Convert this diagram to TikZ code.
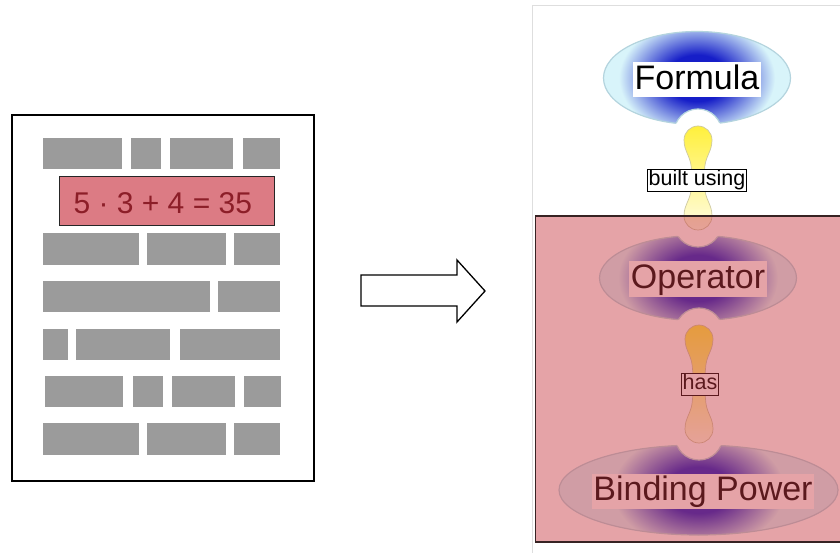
\documentclass[tikz,border=0pt]{standalone}
\usepackage{fontspec}
\setmainfont{Liberation Sans}
\usetikzlibrary{calc,shapes.geometric}
\definecolor{gblue}{RGB}{22,30,200}
\definecolor{gcyan}{RGB}{216,244,250}
\definecolor{rimc}{RGB}{180,212,222}
\definecolor{barg}{RGB}{155,155,155}
\definecolor{eqfill}{RGB}{220,123,132}
\definecolor{eqtext}{RGB}{140,30,40}
\definecolor{overlayc}{RGB}{200,56,65}
\definecolor{boneA}{RGB}{255,240,60}
\definecolor{boneB}{RGB}{255,252,228}
\definecolor{bonerim}{RGB}{205,200,160}
\definecolor{frameg}{RGB}{222,222,222}
\definecolor{ovborder}{RGB}{55,35,35}
\pgfdeclareradialshading{glow}{\pgfpoint{0bp}{0bp}}{color(0bp)=(gblue); color(10bp)=(gblue); color(25bp)=(gcyan); color(50bp)=(gcyan)}
\newcommand\bonepath[2]{%
 ($(#1)+(-14,0)$) .. controls ($(#1)+(-14,12)$) and ($(#1)+(-7,16)$) .. ($(#1)+(-6.5,30)$)
 .. controls ($(#1)!.5!(#2)+(-5.5,-8)$) and ($(#1)!.5!(#2)+(-5.5,8)$) .. ($(#2)+(-6.5,-30)$)
 .. controls ($(#2)+(-7,-16)$) and ($(#2)+(-14,-12)$) .. ($(#2)+(-14,0)$)
 arc[start angle=180, end angle=0, radius=14]
 .. controls ($(#2)+(14,-12)$) and ($(#2)+(7,-16)$) .. ($(#2)+(6.5,-30)$)
 .. controls ($(#1)!.5!(#2)+(5.5,8)$) and ($(#1)!.5!(#2)+(5.5,-8)$) .. ($(#1)+(6.5,30)$)
 .. controls ($(#1)+(7,16)$) and ($(#1)+(14,12)$) .. ($(#1)+(14,0)$)
 arc[start angle=0, end angle=-180, radius=14] -- cycle}
\newcommand\glowellipse[4]{% name, rx, ry, glow rx
 \begin{scope}
  \clip (#1.center) ellipse [x radius=#2, y radius=#3];
  \shade[shading=glow] (#1.center) ellipse [x radius=#4, y radius=58];
 \end{scope}
 \draw[rimc, line width=1.2] (#1.center) ellipse [x radius=#2, y radius=#3];}
\newcommand\notch[4]{% ellipse name, rx, ry, circle center
 \fill[white] (#4) circle [radius=24];
 \begin{scope}
  \clip (#1.center) ellipse [x radius=#2, y radius=#3];
  \draw[rimc, line width=1.2] (#4) circle [radius=24];
 \end{scope}}
\tikzset{
 bar/.style={fill=barg},
 blob/.style={ellipse, fill=gcyan, inner sep=0pt},
 big/.style={fill=white, font=\fontsize{34}{40}\selectfont, text height=26pt, text depth=7pt, inner xsep=1.5pt, inner ysep=1pt},
 lbl/.style={draw=black, fill=white, line width=0.8, font=\fontsize{21.5}{24}\selectfont, text height=15.5pt, text depth=4.5pt, inner xsep=1pt, inner ysep=1pt},
}
\begin{document}
\begin{tikzpicture}[x=1pt,y=-1pt]
\useasboundingbox (0,0) rectangle (840,553);
\fill[white] (0,0) rectangle (840,553);
% ---------- left page ----------
\node[draw=black, line width=1.2, minimum width=302, minimum height=366, inner sep=0] (page) at (163,298) {};
% row 1
\fill[bar] (43,138) rectangle (122,169);
\fill[bar] (131,138) rectangle (161,169);
\fill[bar] (170,138) rectangle (233,169);
\fill[bar] (243,138) rectangle (280,169);
% equation
\node[draw=black!85, line width=1, fill=eqfill, minimum width=215, minimum height=49, inner sep=0] (eq) at (166.5,201.5) {};
\node[text=eqtext, font=\fontsize{30}{34}\selectfont, anchor=west] (eqtxt) at (70,203) {5 · 3 + 4 = 35};
% row 2
\fill[bar] (43,233) rectangle (139,265);
\fill[bar] (147,233) rectangle (226,265);
\fill[bar] (234,233) rectangle (280,265);
% row 3
\fill[bar] (43,281) rectangle (210,312);
\fill[bar] (218,281) rectangle (280,312);
% row 4
\fill[bar] (43,329) rectangle (68,360);
\fill[bar] (76,329) rectangle (170,360);
\fill[bar] (180,329) rectangle (280,360);
% row 5
\fill[bar] (45,376) rectangle (123,407);
\fill[bar] (133,376) rectangle (163,407);
\fill[bar] (172,376) rectangle (235,407);
\fill[bar] (244,376) rectangle (281,407);
% row 6
\fill[bar] (43,423) rectangle (139,455);
\fill[bar] (147,423) rectangle (226,455);
\fill[bar] (234,423) rectangle (280,455);
% ---------- big arrow ----------
\draw[line width=1.3, fill=white, line join=miter] (361,275) -- (457,275) -- (457,260) -- (485,291) -- (457,322) -- (457,306) -- (361,306) -- cycle;
% ---------- frame ----------
\draw[frameg, line width=1] (532,553) -- (532,6) -- (841,6);
% ---------- graph ----------
\node[blob, minimum width=187, minimum height=93] (fE) at (697,78) {};
\node[blob, minimum width=197, minimum height=85] (oE) at (698,278) {};
\node[blob, minimum width=279, minimum height=90] (bE) at (698.5,490) {};
\glowellipse{fE}{93.5}{46.5}{78}
\glowellipse{oE}{98.5}{42.5}{80}
\glowellipse{bE}{139.5}{45}{86}
\coordinate (b1t) at (698,140);
\coordinate (b1b) at (698,216);
\coordinate (b2t) at (699,339);
\coordinate (b2b) at (699,429);
\notch{fE}{93.5}{46.5}{698,133}
\notch{oE}{98.5}{42.5}{698,223}
\notch{oE}{98.5}{42.5}{699,332}
\notch{bE}{139.5}{45}{699,436}
\node[big] (formula) at (697,80) {Formula};
\node[big] (operator) at (698,279) {Operator};
\node[big] (binding) at (703,491) {Binding Power};
\shade[top color=boneA, bottom color=boneB, draw=bonerim, line width=0.7] \bonepath{b1t}{b1b};
\shade[top color=boneA, bottom color=boneB, draw=bonerim, line width=0.7] \bonepath{b2t}{b2b};
\node[lbl] (l1) at ($(b1t)!.5!(b1b)+(-1,2)$) {built using};
\node[lbl] (l2) at ($(b2t)!.5!(b2b)+(1,0)$) {has};
% ---------- overlay ----------
\fill[overlayc, fill opacity=0.46] (535.5,216) rectangle (842,542);
\draw[ovborder, line width=1.6] (842,216) -- (535.5,216) -- (535.5,542) -- (842,542);
\end{tikzpicture}
\end{document}
